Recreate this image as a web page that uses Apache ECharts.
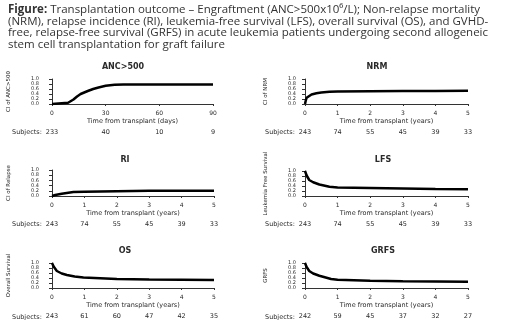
<!DOCTYPE html>
<html>
<head>
<meta charset="utf-8">
<script src="https://cdn.jsdelivr.net/npm/echarts@6/dist/echarts.min.js"></script>
<style>
  html, body { margin: 0; padding: 0; background: #fff; }
  #chart { width: 520px; height: 320px; }
</style>
</head>
<body>
<div id="chart"></div>
<script>
// tick labels of the x axes
var dayTicks = [0, 30, 60, 90]
var yearTicks = [0, 1, 2, 3, 4, 5]

// engraftment (cumulative incidence), days
var ancDays = [0, 1, 9, 10, 12, 14, 16, 18, 20, 23, 26, 30, 35, 40, 90]
var ancCI = [0, 0.05, 0.05, 0.07, 0.18, 0.3, 0.4, 0.46, 0.52, 0.6, 0.66, 0.73, 0.77, 0.78, 0.78]
var ancSubjects = [233, 40, 10, 9]

// non-relapse mortality, years
var nrmYears = [0, 0.02, 0.05, 0.1, 0.2, 0.35, 0.5, 0.75, 1, 2, 3, 4, 5]
var nrmCI = [0, 0.12, 0.25, 0.33, 0.38, 0.43, 0.46, 0.49, 0.5, 0.51, 0.52, 0.52, 0.53]
var nrmSubjects = [243, 74, 55, 45, 39, 33]

// relapse incidence
var riYears = [0, 0.1, 0.3, 0.66, 1, 2, 3, 5]
var riCI = [0, 0.04, 0.09, 0.15, 0.16, 0.18, 0.2, 0.2]
var riSubjects = [243, 74, 55, 45, 39, 33]

// leukemia-free survival
var lfsYears = [0, 0.05, 0.13, 0.25, 0.44, 0.75, 1, 2, 3, 4, 5]
var lfsProb = [1, 0.82, 0.64, 0.55, 0.46, 0.37, 0.34, 0.32, 0.3, 0.28, 0.27]
var lfsSubjects = [243, 74, 55, 45, 39, 33]

// overall survival
var osYears = [0, 0.05, 0.15, 0.3, 0.46, 0.7, 0.97, 2, 3, 4, 5]
var osProb = [1, 0.86, 0.68, 0.58, 0.52, 0.46, 0.42, 0.36, 0.34, 0.33, 0.32]
var osSubjects = [243, 61, 60, 47, 42, 35]

// GVHD-free, relapse-free survival
var grfsYears = [0, 0.05, 0.13, 0.25, 0.44, 0.8, 1, 2, 3, 4, 5]
var grfsProb = [1, 0.84, 0.68, 0.58, 0.49, 0.36, 0.33, 0.29, 0.27, 0.26, 0.25]
var grfsSubjects = [242, 59, 45, 37, 32, 27]

var caption = [
  '{b|Figure:} Transplantation outcome \u2013 Engraftment (ANC>500x10\u2076/L); Non-relapse mortality',
  '(NRM), relapse incidence (RI), leukemia-free survival (LFS), overall survival (OS), and GVHD-',
  'free, relapse-free survival (GRFS) in acute leukemia patients undergoing second allogeneic',
  'stem cell transplantation for graft failure'
].join('\n')

var panels = [
  { title: 'ANC>500', yName: 'CI of ANC>500', xName: 'Time from transplant (days)', x: ancDays, y: ancCI, ticks: dayTicks, subjects: ancSubjects },
  { title: 'NRM', yName: 'CI of NRM', xName: 'Time from transplant (years)', x: nrmYears, y: nrmCI, ticks: yearTicks, subjects: nrmSubjects },
  { title: 'RI', yName: 'CI of Relapse', xName: 'Time from transplant (years)', x: riYears, y: riCI, ticks: yearTicks, subjects: riSubjects },
  { title: 'LFS', yName: 'Leukemia Free Survival', xName: 'Time from transplant (years)', x: lfsYears, y: lfsProb, ticks: yearTicks, subjects: lfsSubjects },
  { title: 'OS', yName: 'Overall Survival', xName: 'Time from transplant (years)', x: osYears, y: osProb, ticks: yearTicks, subjects: osSubjects },
  { title: 'GRFS', yName: 'GRFS', xName: 'Time from transplant (years)', x: grfsYears, y: grfsProb, ticks: yearTicks, subjects: grfsSubjects }
]

// where each little plot sits on the page
var layout = [
  { left: 52, top: 79, width: 161, height: 25, yOffset: 9, titleX: 123, titleY: 67, subjX: 12 },
  { left: 305, top: 79, width: 163, height: 25, yOffset: 5, titleX: 377, titleY: 67, subjX: 265 },
  { left: 52, top: 170, width: 162, height: 26, yOffset: 9, titleX: 125, titleY: 160, subjX: 12 },
  { left: 305, top: 171, width: 163, height: 25, yOffset: 5, titleX: 383, titleY: 160, subjX: 265 },
  { left: 52, top: 263, width: 162, height: 26, yOffset: 9, titleX: 125, titleY: 251, subjX: 12 },
  { left: 305, top: 263, width: 163, height: 26, yOffset: 5, titleX: 383, titleY: 251, subjX: 265 }
]

var textColor = '#2a2a2a'
var font = 'DejaVu Sans'

var grid = [], xAxis = [], yAxis = [], series = [], graphic = []

panels.forEach(function (p, i) {
  var l = layout[i]
  var step = p.ticks[1] - p.ticks[0]
  grid.push({ left: l.left, top: l.top, width: l.width, height: l.height })

  xAxis.push({
    gridIndex: i, type: 'value', min: p.ticks[0], max: p.ticks[p.ticks.length - 1], interval: step,
    position: 'bottom', offset: 3,
    name: p.xName, nameLocation: 'middle', nameGap: 11,
    nameTextStyle: { fontSize: 6.5, fontFamily: font, color: textColor },
    axisLine: { lineStyle: { color: '#333', width: 1 } },
    axisTick: { length: 2, lineStyle: { color: '#333' } },
    axisLabel: { fontSize: 6, fontFamily: font, color: textColor, margin: 3 },
    splitLine: { show: false }
  })
  // risk table row drawn as a second, bare x axis
  xAxis.push({
    gridIndex: i, type: 'value', min: p.ticks[0], max: p.ticks[p.ticks.length - 1], interval: step,
    position: 'bottom', offset: 25,
    axisLine: { show: false }, axisTick: { show: false }, splitLine: { show: false },
    axisLabel: {
      fontSize: 6.5, fontFamily: font, color: textColor, margin: 0,
      formatter: function (v) {
        var k = p.ticks.indexOf(v)
        return k >= 0 ? String(p.subjects[k]) : ''
      }
    }
  })

  yAxis.push({
    gridIndex: i, type: 'value', min: 0, max: 1, interval: 0.2, offset: l.yOffset,
    name: p.yName, nameLocation: 'middle', nameGap: 31, nameRotate: 90,
    nameTextStyle: { fontSize: 5.5, fontFamily: font, color: textColor },
    axisLine: { show: true, lineStyle: { color: '#333', width: 1 } },
    axisTick: { show: true, length: 3, lineStyle: { color: '#333' } },
    axisLabel: {
      fontSize: 5, lineHeight: 4, fontFamily: font, color: textColor, margin: 4,
      showMinLabel: true, showMaxLabel: true, hideOverlap: false,
      formatter: function (v) { return v.toFixed(1) }
    },
    splitLine: { show: false }
  })

  series.push({
    type: 'line', xAxisIndex: i * 2, yAxisIndex: i, showSymbol: false, silent: true,
    lineStyle: { color: '#000', width: 2.5 },
    data: p.x.map(function (t, k) { return [t, p.y[k]] })
  })

  graphic.push({
    type: 'text', x: l.titleX, y: l.titleY,
    style: { text: p.title, fontSize: 8, fontWeight: 'bold', fontFamily: font, fill: textColor, align: 'center', verticalAlign: 'middle' }
  })
  graphic.push({
    type: 'text', x: l.subjX, y: l.top + l.height + 28,
    style: { text: 'Subjects:', fontSize: 6.5, fontFamily: font, fill: textColor, align: 'left', verticalAlign: 'middle' }
  })
})

var chart = echarts.init(document.getElementById('chart'))
chart.setOption({
  animation: false,
  title: {
    text: caption, left: 3, top: -1,
    textStyle: {
      fontSize: 11.5, fontWeight: 'normal', fontFamily: 'Open Sans', color: '#333', lineHeight: 11.5,
      rich: { b: { fontSize: 11.5, fontWeight: 'bold', fontFamily: 'Open Sans', color: '#333', lineHeight: 11.5 } }
    }
  },
  grid: grid,
  xAxis: xAxis,
  yAxis: yAxis,
  series: series,
  graphic: graphic
})
</script>
</body>
</html>
